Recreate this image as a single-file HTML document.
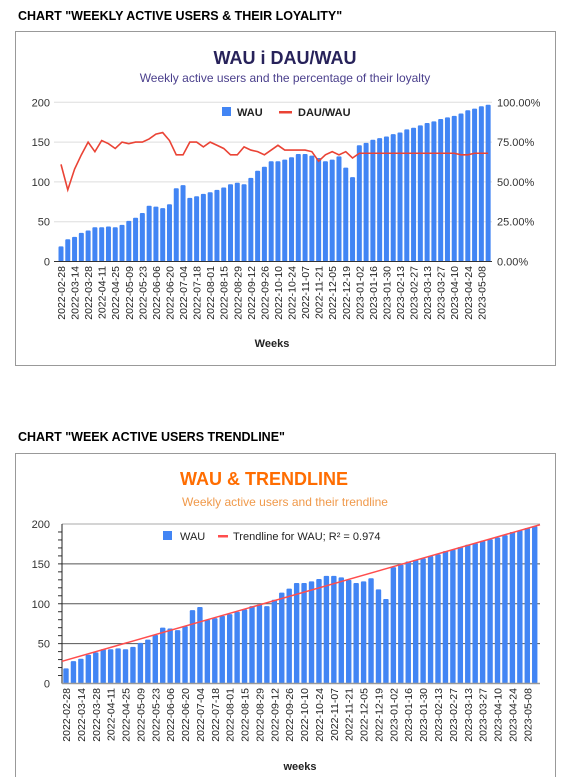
<!DOCTYPE html>
<html><head><meta charset="utf-8"><style>
body{margin:0;background:#fff;width:563px;height:777px;overflow:hidden;font-family:"Liberation Sans",Arial,sans-serif}
svg{display:block}
</style></head><body>
<svg id="s" width="563" height="777" viewBox="0 0 563 777">
<text x="18" y="20" font-size="12.5" font-weight="bold" fill="#000">CHART "WEEKLY ACTIVE USERS &amp; THEIR LOYALITY"</text>
<rect x="15.5" y="31.5" width="540" height="334" fill="#fff" stroke="#999"/>
<text x="285" y="64" font-size="18" font-weight="bold" fill="#27225a" text-anchor="middle">WAU i DAU/WAU</text>
<text x="285" y="82" font-size="12" fill="#4a3f8c" text-anchor="middle">Weekly active users and the percentage of their loyalty</text>
<g id="c1"></g>
<rect x="222" y="107" width="9" height="9" fill="#4285f4"/>
<text x="237" y="116" font-size="11" font-weight="bold" fill="#222">WAU</text>
<rect x="279" y="111" width="13" height="2.5" fill="#ea4335"/>
<text x="298" y="116" font-size="11" font-weight="bold" fill="#222">DAU/WAU</text>
<text x="272" y="347" font-size="11" font-weight="bold" fill="#222" text-anchor="middle">Weeks</text>

<text x="18" y="441" font-size="12.5" font-weight="bold" fill="#000">CHART "WEEK ACTIVE USERS TRENDLINE"</text>
<rect x="15.5" y="453.5" width="540" height="330" fill="#fff" stroke="#999"/>
<text x="264" y="485" font-size="18" font-weight="bold" fill="#ff6d01" text-anchor="middle">WAU &amp; TRENDLINE</text>
<text x="285" y="506" font-size="12" fill="#f0994a" text-anchor="middle">Weekly active users and their trendline</text>
<g id="c2"></g>
<rect x="163" y="531" width="9" height="9" fill="#4285f4"/>
<text x="180" y="540" font-size="11" fill="#222">WAU</text>
<rect x="218" y="535" width="10" height="2.5" fill="#ff4d4d"/>
<text x="233" y="540" font-size="11" fill="#222">Trendline for WAU; R² = 0.974</text>
<text x="300" y="770" font-size="11" font-weight="bold" fill="#222" text-anchor="middle">weeks</text>
</svg>
<script>
const wau=[19,28,31,36,39,43,43,44,43,46,51,55,61,70,69,67,72,92,96,80,82,85,87,90,93,97,99,97,105,114,119,126,126,128,131,135,135,133,130,126,128,132,118,106,146,149,153,155,157,160,162,166,168,171,174,176,179,181,183,186,190,192,195,197];
const loyalty=[61,45,58,67,75,69,76,74,71,75,74,75,75,77,80,81,76,67,67,75,75,72,75,73,71,67,67,72,70,69,67,70,73,70,70,70,70,69,63,67,69,67,69,65,68,68,68,68,68,68,68,68,68,68,68,68,68,68,68,67,67,68,68,68];
const leftTicks=[0,50,100,150,200];
const rightTicks=["0.00%","25.00%","50.00%","75.00%","100.00%"];
const startDate=new Date(Date.UTC(2022,1,28));
const NS="http://www.w3.org/2000/svg";
function mk(p,t,a){const e=document.createElementNS(NS,t);for(const k in a)e.setAttribute(k,a[k]);p.appendChild(e);return e;}
function dateLabel(i){const d=new Date(startDate.getTime()+i*7*864e5);return d.toISOString().slice(0,10);}

// chart 1
(function(){
const g=document.getElementById('c1');
const x0=61,pitch=6.78,yb=261.5,yt=102.3;
const y=v=>yb-(v/200)*(yb-yt);
const yr=p=>yb-(p/100)*(yb-yt);
const x=i=>x0+i*pitch;
leftTicks.forEach((t,i)=>{
 const l=mk(g,'line',{x1:54,x2:492,y1:y(t),y2:y(t),stroke:i==0?'#333':'#ddd','stroke-width':1});
 
 
 const tx=mk(g,'text',{x:50,y:y(t)+4,'font-size':11,fill:'#333','text-anchor':'end'});tx.textContent=t;
 
 
 const tr=mk(g,'text',{x:497,y:y(t)+4,'font-size':11,fill:'#333'});tr.textContent=rightTicks[i];
 
 
});
wau.forEach((v,i)=>{
 const r=mk(g,'rect',{x:x(i)-2.5,y:y(v),width:5,height:yb-y(v),fill:'#4285f4',rx:1});
 
 
});
mk(g,'line',{x1:54,x2:492,y1:yb,y2:yb,stroke:'#333'});
const pl=mk(g,'polyline',{points:loyalty.map((p,i)=>x(i)+','+yr(p)).join(' '),fill:'none',stroke:'#ea4335','stroke-width':1.6});


for(let i=0;i<wau.length;i+=2){
 const t=mk(g,'text',{transform:`translate(${x(i)+4},266) rotate(-90)`,'font-size':10.5,fill:'#222','text-anchor':'end'});t.textContent=dateLabel(i);
 
 
}
})();

// chart 2
(function(){
const g=document.getElementById('c2');
const x0=66,pitch=7.44,yb=683.5,yt=524;
const y=v=>yb-(v/200)*(yb-yt);
const x=i=>x0+i*pitch;
leftTicks.forEach((t,i)=>{
 const l=mk(g,'line',{x1:62,x2:540,y1:y(t),y2:y(t),stroke:i==0?'#999':(i==4?'#aaa':'#555'),'stroke-width':1});
 
 
 const tx=mk(g,'text',{x:50,y:y(t)+4,'font-size':11,fill:'#333','text-anchor':'end'});tx.textContent=t;
 
 
});
for(let v=10;v<200;v+=10){mk(g,'line',{x1:58,x2:62,y1:y(v),y2:y(v),stroke:'#333'});}
wau.forEach((v,i)=>{
 const r=mk(g,'rect',{x:x(i)-2.7,y:y(v),width:5.4,height:yb-y(v),fill:'#4285f4',rx:1});
 
 
});
mk(g,'line',{x1:62,x2:62,y1:yt,y2:yb,stroke:'#222'});
mk(g,'line',{x1:62,x2:540,y1:yb,y2:yb,stroke:'#999','stroke-width':1.5});
const n=wau.length;let sx=0,sy=0,sxx=0,sxy=0;
wau.forEach((v,i)=>{sx+=i;sy+=v;sxx+=i*i;sxy+=i*v;});
const b=(n*sxy-sx*sy)/(n*sxx-sx*sx),a=(sy-b*sx)/n;
const tl=mk(g,'line',{x1:62,y1:y(a+b*((62-x0)/pitch)),x2:540,y2:y(a+b*((540-x0)/pitch)),stroke:'#ff4d4d','stroke-width':1.5});


for(let i=0;i<n;i+=2){
 const t=mk(g,'text',{transform:`translate(${x(i)+4},688) rotate(-90)`,'font-size':10.5,fill:'#222','text-anchor':'end'});t.textContent=dateLabel(i);
 
 
}
})();
</script>
</body></html>
